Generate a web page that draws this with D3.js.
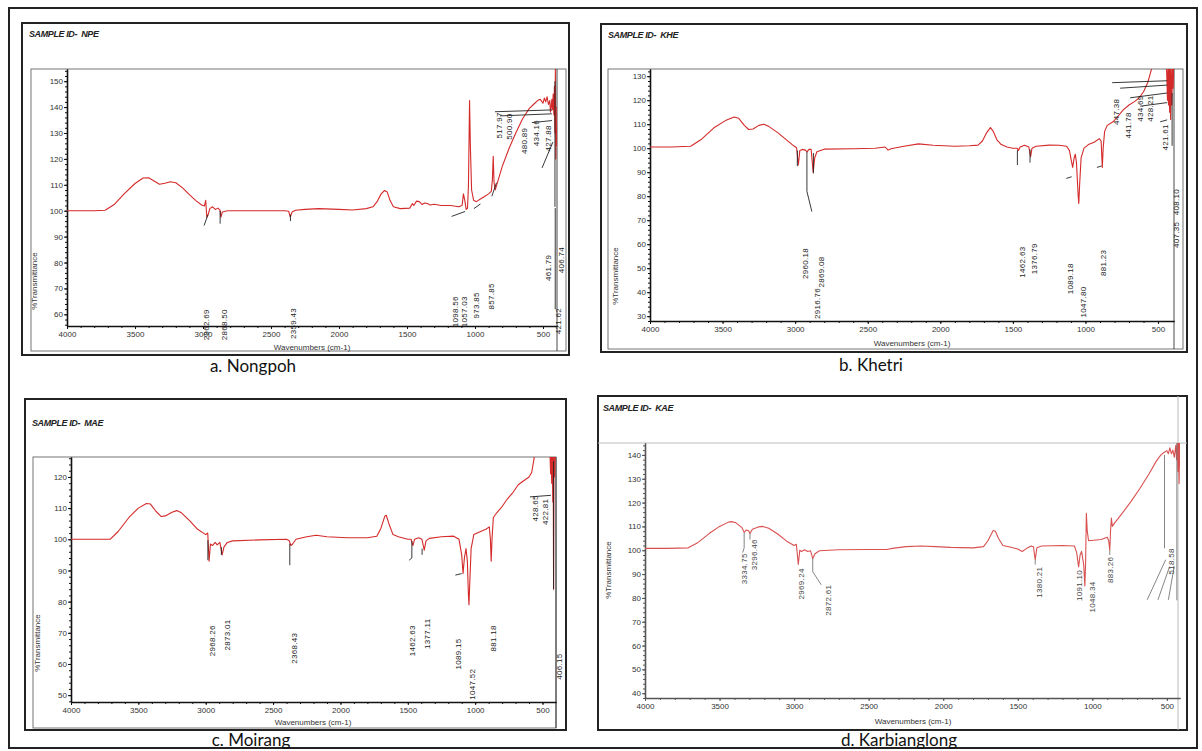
<!DOCTYPE html>
<html>
<head>
<meta charset="utf-8">
<script src="https://cdn.jsdelivr.net/npm/d3@7"></script>
<style>
  body { margin: 0; background: #fff; }
  svg { display: block; }
  .tick text { font-family: "Liberation Sans", Arial, sans-serif; font-size: 8px; fill: #333; }
</style>
</head>
<body>
<svg id="chart" width="1202" height="751"></svg>
<script>
// FTIR spectra, four samples.
const xTickValues = [4000, 3500, 3000, 2500, 2000, 1500, 1000, 500];

// ---- a. Nongpoh (NPE)
const npeYTicks = [60, 70, 80, 90, 100, 110, 120, 130, 140, 150];
const npeSpectrum = [
  [4000,100],[3900,100],[3800,100],[3720,100.2],[3650,102.5],[3580,106.5],[3500,110.5],[3440,112.6],
  [3400,112.7],[3360,111.5],[3320,110.2],[3280,110.6],[3240,111.2],[3200,110.8],[3150,108.8],[3100,106.2],
  [3050,103.8],[3010,102.2],[2990,101.8],[2980,104],[2972,97.5],[2962,98.5],[2950,100.8],[2930,101.5],
  [2910,100.5],[2890,101],[2875,100.2],[2868,97.5],[2858,99.5],[2820,100],[2700,100],[2500,100],[2400,100],
  [2370,99.8],[2358,97.5],[2345,99.5],[2320,100.2],[2250,100.5],[2150,100.8],[2000,100.5],[1900,100.3],
  [1800,100.8],[1750,101.5],[1720,103.5],[1690,106.5],[1665,107.8],[1645,107.2],[1625,104],[1600,101.5],
  [1550,100.8],[1480,101],[1460,102.8],[1450,102],[1430,103.7],[1410,103.5],[1390,102.4],[1370,103],
  [1350,102.8],[1330,102.2],[1300,102.5],[1250,102],[1180,102],[1120,101.5],[1095,102],[1085,106.5],
  [1075,104],[1065,100.5],[1055,101],[1048,110],[1040,142.5],[1034,125],[1025,108],[1010,104],[990,103.5],
  [960,104.5],[930,105.5],[900,106.5],[880,107.5],[872,112],[866,121],[860,111],[852,108],[840,110],
  [800,117],[750,124],[700,130],[650,135.5],[600,139.5],[570,141],[540,142.5],[520,143],[500,141.5],
  [490,143.5],[480,142],[470,144],[460,141],[450,142.5],[445,138],[440,140],[435,143],[430,139],[425,145],
  [420,137],[416,148],[412,130],[409,155],[406,120],[403,140],[400,125]
];
const npeLabels = [
  ['2962.69',2978,62],['2868.50',2843,62],['2359.43',2335,62.5],['1098.56',1149,67],['1057.03',1079,67],
  ['973.85',989,68.5],['857.85',881,72],['517.97',825,138],['500.90',749,137.5],['480.89',636,132],
  ['434.16',551,135],['427.88',461,133],['461.79',461,83],['406.74',367,86],['421.62',387,62.5]
];
const npeLeaders = [
  [[2964,98.4],[2992,94.3]],[[2874,100],[2874,95]],[[2357,98.5],[2357,96]],[[1172,97.8],[1073,99.7]],
  [[1008,100.8],[960,102.6]],[[876,105.6],[842,110.8]],[[853,138.2],[434,138.9]],[[816,136.6],[434,137.4]],
  [[581,134],[434,134.8]],[[507,116.5],[427,126.5]],[[412,150],[412,101.5]],[[410,101],[410,62]]
];

// ---- b. Khetri (KHE)
const kheYTicks = [30, 40, 50, 60, 70, 80, 90, 100, 110, 120, 130];
const kheSpectrum = [
  [4000,100.5],[3850,100.5],[3720,100.8],[3650,103.5],[3560,108.5],[3480,111.5],[3420,113],[3390,112.5],
  [3350,109.5],[3320,107.8],[3290,108],[3250,109.5],[3215,110],[3180,109],[3120,106.5],[3060,103.5],
  [3010,101],[2990,100.2],[2978,93],[2968,99],[2950,99.5],[2930,99.2],[2918,98.5],[2905,99.5],[2890,99.5],
  [2876,90],[2865,96],[2850,98.5],[2800,99.6],[2600,99.8],[2450,100],[2380,100.5],[2360,99.2],[2340,99.8],
  [2250,100.8],[2150,101.8],[2050,101.2],[1900,100.8],[1800,101],[1740,101.3],[1710,103],[1680,106.5],
  [1655,108.6],[1635,107],[1610,103.5],[1580,101.5],[1540,100.5],[1500,100],[1470,100],[1462,99],
  [1450,100.5],[1420,101.2],[1390,100.5],[1378,96.5],[1368,100],[1340,100.8],[1250,101.3],[1180,101.2],
  [1130,100.8],[1110,99],[1098,95],[1088,92],[1078,96],[1070,97.5],[1062,94],[1050,80],[1046,77],
  [1040,85],[1030,96],[1010,100],[980,101.5],[940,102.5],[905,104],[892,103],[884,92],[878,100],
  [868,107],[850,109.5],[810,111],[780,113],[740,116],[700,118],[660,119.5],[630,121],[600,123.5],
  [570,127.5],[540,134],[445,136],[440,131],[435,120],[432,134],[428,118],[425,134],[420,115],[417,134],
  [413,112],[410,134],[405,118],[400,134],[396,125],[392,134]
];
const kheLabels = [
  ['2960.18',2932,58.4],['2916.76',2845,41.8],['2869.08',2822,54.9],['1462.63',1437,59],['1376.79',1356,60.4],
  ['1089.18',1105,52.1],['1047.80',1016,42.4],['881.23',881,57.7],['447.38',789,120.6],['441.78',704,115],
  ['434.69',620,122],['428.21',551,122],['421.61',451,110],['408.10',375,83],['407.35',375,69.4]
];
const kheLeaders = [
  [[2985,99],[2985,92.5]],[[2919,98.5],[2919,82],[2885,73.6]],[[2874,98],[2874,89.5]],[[1469,99.2],[1469,93]],
  [[1382,99.5],[1382,94]],[[1132,87.4],[1095,88.1]],[[921,92],[889,92.6]],[[816,127.3],[437,128.1]],
  [[761,125],[437,126.3]],[[692,121],[437,123]],[[623,117.5],[437,119]],[[485,111],[437,111.8]],
  [[403,123],[403,101]]
];

// ---- c. Moirang (MAE)
const maeYTicks = [50, 60, 70, 80, 90, 100, 110, 120];
const maeSpectrum = [
  [4000,100],[3850,100],[3710,100],[3650,102.5],[3570,107],[3500,110],[3440,111.5],[3410,111.3],
  [3370,109],[3330,107.3],[3300,107.5],[3250,108.7],[3215,109.2],[3180,108.5],[3120,106],[3060,103.2],
  [3000,101.5],[2985,102],[2975,93],[2965,98.5],[2950,98],[2930,99],[2915,98.2],[2895,99],[2878,95],
  [2865,97.5],[2840,99],[2800,99.5],[2600,99.8],[2400,100],[2380,99.5],[2368,98],[2355,98.5],[2330,100],
  [2250,100.8],[2180,101.3],[2100,100.8],[1950,100.5],[1800,100.5],[1730,101],[1700,103.5],[1670,107.5],
  [1660,107.7],[1640,105],[1610,101.5],[1570,100.8],[1500,100],[1475,100],[1462,98],[1450,100],
  [1420,100.5],[1395,100],[1378,96.5],[1365,99.5],[1340,100.3],[1250,100.8],[1160,101],[1120,100],
  [1100,95],[1090,89],[1080,94],[1068,97],[1058,93],[1050,82],[1046,79],[1040,86],[1030,97],[1010,101.5],
  [960,102.5],[920,103.2],[895,104],[887,100],[881,93],[875,100],[865,107],[840,108.5],[800,110.5],
  [760,113],[720,115],[680,117.5],[640,118.8],[600,120],[580,121.5],[555,128],[445,128],[440,121],
  [436,128],[432,118],[428,128],[424,112],[421,128],[418,84],[415,128],[410,120],[405,128]
];
const maeLabels = [
  ['2968.26',2950,72.4],['2873.01',2842,74.3],['2368.43',2345,70],['1462.63',1465,72.4],['1377.11',1355,74.6],
  ['1089.15',1125,68.2],['1047.52',1025,58.5],['881.18',863,72.4],['428.65',557,114.1],['422.81',480,113],
  ['406.15',375,63.4]
];
const maeLeaders = [
  [[2984,99.7],[2984,93.3]],[[2884,97.5],[2884,95]],[[2376,98.6],[2376,91.7]],
  [[1470,99.5],[1470,94],[1490,93.3]],[[1394,97],[1394,95]],[[1147,88.5],[1100,89]],
  [[594,113.6],[438,114.1]],[[418,125],[418,84]]
];

// ---- d. Karbianglong (KAE)
const kaeYTicks = [40, 50, 60, 70, 80, 90, 100, 110, 120, 130, 140];
const kaeSpectrum = [
  [4000,100.8],[3850,100.8],[3710,101],[3650,103],[3570,107],[3500,110],[3440,111.8],[3420,112],
  [3390,111.5],[3350,109.5],[3335,107.5],[3320,108.5],[3305,108.2],[3296,107],[3280,108.8],[3240,109.8],
  [3210,110],[3170,109.2],[3110,106.8],[3050,103.8],[3000,102],[2985,102.5],[2972,94],[2962,100],
  [2950,99.5],[2930,100.2],[2910,99.5],[2890,99.8],[2875,96.5],[2860,98.5],[2830,99.8],[2700,100.2],
  [2500,100.3],[2380,100.3],[2340,100.8],[2250,101.5],[2150,101.8],[2050,101.5],[1950,101.2],[1800,101],
  [1730,101.5],[1700,104],[1665,108.3],[1650,108],[1630,105],[1600,102],[1560,101.5],[1500,100.5],
  [1470,99.5],[1440,100.8],[1410,101.8],[1395,101.5],[1383,96],[1372,101],[1340,101.8],[1200,102],
  [1120,101.8],[1105,99],[1092,93],[1082,98],[1072,99.5],[1058,94],[1050,85],[1045,95],[1040,115.5],
  [1034,108],[1025,104],[990,104.2],[940,104.5],[900,105.5],[890,104],[883,100],[878,108],[872,113.5],
  [866,110],[850,111.5],[800,115.5],[740,120.5],[680,126],[620,132],[570,137.5],[540,140],[520,141],
  [500,141.8],[490,140.5],[480,143],[470,140.5],[460,142],[450,139],[440,144],[435,138],[430,145],
  [426,133],[422,145],[418,128],[415,145],[412,135]
];
const kaeLabels = [
  ['3334.75',3335,98.7],['3296.46',3265,104.6],['2969.24',2952,92.4],['2872.61',2771,85.5],
  ['1380.21',1357,93.1],['1091.10',1085,91.7],['1048.34',1000,86.9],['883.26',878,97.3],['518.58',472,100.8]
];
const kaeLeaders = [
  [[3335,107.5],[3335,101],[3345,99]],[[3296,107],[3296,104.5]],[[2875,96.5],[2875,91],[2818,85.5]],
  [[1383,96],[1383,94]],[[883,100],[883,98]],[[516,140],[516,100.8]],[[433,145],[433,79]],
  [[632,79.2],[508,96]],[[560,79.2],[482,93.1]],[[490,79.2],[451,93.1]]
];

const panels = [
  { id: 'NPE', caption: 'a. Nongpoh', spectrum: npeSpectrum, labels: npeLabels, leaders: npeLeaders, yTicks: npeYTicks,
    box: [22, 23, 569, 355], frame: [31, 69, 566, 351], px: [67, 557], py: [69, 326],
    xDomain: [4000, 397], yDomain: [55.5, 154.7], sid: [29, 37], ylab: [37, 281], xlab: [312, 350], cap: [253, 372] },
  { id: 'KHE', caption: 'b. Khetri', spectrum: kheSpectrum, labels: kheLabels, leaders: kheLeaders, yTicks: kheYTicks,
    box: [601, 24, 1187, 352], frame: [608, 69, 1183, 349], px: [650, 1174], py: [69, 321],
    xDomain: [4000, 390], yDomain: [28, 133], sid: [608, 38], ylab: [618, 276], xlab: [912, 346], cap: [871, 371] },
  { id: 'MAE', caption: 'c. Moirang', spectrum: maeSpectrum, labels: maeLabels, leaders: maeLeaders, yTicks: maeYTicks,
    box: [25, 399, 566, 730], frame: [33, 457, 556, 728], px: [71, 556], py: [457, 702],
    xDomain: [4000, 400], yDomain: [47.8, 126.4], sid: [32, 426], ylab: [40, 643], xlab: [313, 725], cap: [251, 746] },
  { id: 'KAE', caption: 'd. Karbianglong', spectrum: kaeSpectrum, labels: kaeLabels, leaders: kaeLeaders, yTicks: kaeYTicks,
    box: [598, 396, 1187, 730], frame: null, px: [645, 1180], py: [443, 698],
    xDomain: [4000, 412], yDomain: [38, 145], sid: [603, 411], ylab: [611, 570], xlab: [913, 724], cap: [899, 746], light: true }
];

const svg = d3.select('#chart');
const FONT = '"Liberation Sans", Arial, sans-serif';
const fmt = d3.format('d');

// outer frame round everything
svg.append('rect')
  .attr('x', 9).attr('y', 8).attr('width', 1188).attr('height', 740)
  .attr('fill', 'none').attr('stroke', '#222').attr('stroke-width', 2);

function drawPanel(p) {
  const g = svg.append('g').attr('class', 'panel ' + p.id);
  const axisColor = p.light ? '#555' : '#111';

  g.append('rect')
    .attr('x', p.box[0]).attr('y', p.box[1])
    .attr('width', p.box[2] - p.box[0]).attr('height', p.box[3] - p.box[1])
    .attr('fill', 'none').attr('stroke', '#222').attr('stroke-width', 2);

  if (p.frame) {
    g.append('rect')
      .attr('x', p.frame[0]).attr('y', p.frame[1])
      .attr('width', p.frame[2] - p.frame[0]).attr('height', p.frame[3] - p.frame[1])
      .attr('fill', 'none').attr('stroke', '#666').attr('stroke-width', 0.9);
    g.append('line')
      .attr('x1', p.px[1]).attr('x2', p.px[1]).attr('y1', p.py[0]).attr('y2', p.frame[3])
      .attr('stroke', '#333').attr('stroke-width', 0.9);
  } else {
    g.append('line')
      .attr('x1', p.box[0]).attr('x2', p.box[2]).attr('y1', p.py[0]).attr('y2', p.py[0])
      .attr('stroke', '#bbb').attr('stroke-width', 1);
    g.append('line')
      .attr('x1', p.px[1] - 2).attr('x2', p.px[1] - 2).attr('y1', p.box[1]).attr('y2', p.box[3])
      .attr('stroke', '#bbb').attr('stroke-width', 1);
  }

  const x = d3.scaleLinear().domain(p.xDomain).range(p.px);
  const y = d3.scaleLinear().domain(p.yDomain).range([p.py[1], p.py[0]]);

  const clipId = 'clip-' + p.id;
  svg.append('defs').append('clipPath').attr('id', clipId)
    .append('rect').attr('x', p.px[0]).attr('y', p.py[0])
    .attr('width', p.px[1] - p.px[0]).attr('height', p.py[1] - p.py[0]);

  // minor ticks
  const yMinor = d3.range(Math.ceil(p.yDomain[0] / 2) * 2, p.yDomain[1], 2);
  g.append('g').attr('transform', `translate(${p.px[0]},0)`)
    .call(d3.axisLeft(y).tickValues(yMinor).tickSize(2).tickSizeOuter(0).tickFormat(''))
    .call(a => a.selectAll('line,path').attr('stroke', axisColor));
  const xMinor = d3.range(500, 4001, 100).filter(v => v <= p.xDomain[0] && v >= p.xDomain[1]);
  g.append('g').attr('transform', `translate(0,${p.py[1]})`)
    .call(d3.axisBottom(x).tickValues(xMinor).tickSize(2).tickSizeOuter(0).tickFormat(''))
    .call(a => a.selectAll('line,path').attr('stroke', axisColor));

  // major axes
  g.append('g').attr('transform', `translate(${p.px[0]},0)`)
    .call(d3.axisLeft(y).tickValues(p.yTicks).tickSize(3).tickSizeOuter(0).tickPadding(1).tickFormat(fmt))
    .call(a => a.select('.domain').attr('stroke', axisColor).attr('stroke-width', 1.6))
    .call(a => a.selectAll('.tick line').attr('stroke', axisColor));
  g.append('g').attr('transform', `translate(0,${p.py[1]})`)
    .call(d3.axisBottom(x).tickValues(xTickValues).tickSize(3).tickSizeOuter(0).tickPadding(2).tickFormat(fmt))
    .call(a => a.select('.domain').attr('stroke', axisColor).attr('stroke-width', 1.6))
    .call(a => a.selectAll('.tick line').attr('stroke', axisColor));

  // spectrum
  const line = d3.line().x(d => x(d[0])).y(d => y(d[1]));
  g.append('path')
    .datum(p.spectrum)
    .attr('clip-path', `url(#${clipId})`)
    .attr('fill', 'none')
    .attr('stroke', p.light ? '#d95050' : '#d42a2a')
    .attr('stroke-width', 1.1)
    .attr('stroke-linejoin', 'round')
    .attr('d', line);

  // peak leader lines
  g.selectAll('path.leader')
    .data(p.leaders)
    .join('path')
    .attr('class', 'leader')
    .attr('fill', 'none')
    .attr('stroke', p.light ? '#777' : '#222')
    .attr('stroke-width', 0.9)
    .attr('d', d3.line().x(d => x(d[0])).y(d => y(d[1])));

  // peak labels, rotated
  g.selectAll('text.peak')
    .data(p.labels)
    .join('text')
    .attr('class', 'peak')
    .attr('transform', d => `translate(${x(d[1])},${y(d[2])}) rotate(-90)`)
    .attr('text-anchor', 'end')
    .attr('dy', '0.35em')
    .attr('font-family', FONT)
    .attr('font-size', 8)
    .attr('letter-spacing', 0.3)
    .attr('fill', p.light ? '#444' : '#222')
    .text(d => d[0]);

  g.append('text')
    .attr('x', p.sid[0]).attr('y', p.sid[1])
    .attr('font-family', FONT).attr('font-size', 9)
    .attr('font-weight', 'bold').attr('font-style', 'italic')
    .attr('letter-spacing', -0.4).attr('fill', '#222')
    .attr('xml:space', 'preserve')
    .text('SAMPLE ID-  ' + p.id);

  g.append('text')
    .attr('transform', `translate(${p.ylab[0]},${p.ylab[1]}) rotate(-90)`)
    .attr('text-anchor', 'middle')
    .attr('font-family', FONT).attr('font-size', 8).attr('fill', '#333')
    .text('%Transmittance');

  g.append('text')
    .attr('x', p.xlab[0]).attr('y', p.xlab[1])
    .attr('text-anchor', 'middle')
    .attr('font-family', FONT).attr('font-size', 8).attr('fill', '#333')
    .text('Wavenumbers (cm-1)');

  g.append('text')
    .attr('x', p.cap[0]).attr('y', p.cap[1])
    .attr('text-anchor', 'middle')
    .attr('font-family', 'Lato, "Open Sans", sans-serif').attr('font-size', 17)
    .attr('fill', '#111')
    .text(p.caption);
}

panels.forEach(drawPanel);
</script>
</body>
</html>
